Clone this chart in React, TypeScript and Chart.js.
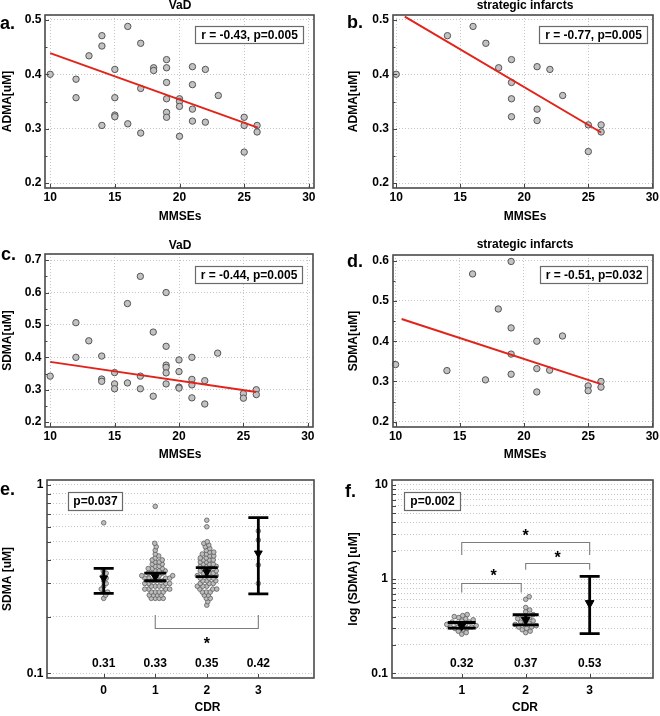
import React, { useEffect, useRef } from "react";
import { Chart, registerables } from "chart.js";

Chart.register(...registerables);

const FONT = '"Liberation Sans", Arial, Helvetica, sans-serif';
const TICK_FONT = { family: FONT, size: 12, weight: "bold" as const };
const GRID = "#c4c4c4";
const RED = "#e2231a";

// ---------------- data ----------------
const MMSE_TICKS = [10, 15, 20, 25, 30];

// a. VaD – ADMA vs MMSE
const VAD_ADMA_MMSE = [10, 12, 12, 13, 14, 14, 14, 15, 15, 15, 15, 16, 16, 17, 17, 17, 18, 18, 19, 19, 19, 19, 19, 19, 20, 20, 20, 20, 21, 21, 21, 21, 22, 22, 23, 25, 25, 25, 26, 26];
const VAD_ADMA = [0.40, 0.391, 0.357, 0.434, 0.471, 0.452, 0.306, 0.409, 0.357, 0.325, 0.322, 0.488, 0.309, 0.457, 0.374, 0.292, 0.412, 0.407, 0.427, 0.412, 0.385, 0.355, 0.330, 0.321, 0.355, 0.350, 0.341, 0.286, 0.414, 0.381, 0.336, 0.314, 0.409, 0.312, 0.361, 0.321, 0.306, 0.257, 0.306, 0.294];
const VAD_ADMA_FIT_X = [10, 26.05];
const VAD_ADMA_FIT_Y = [0.439, 0.302];
const ADMA_TICKS = [0.2, 0.3, 0.4, 0.5];

// b. strategic infarcts – ADMA vs MMSE
const SI_ADMA_MMSE = [10, 14, 16, 17, 18, 19, 19, 19, 19, 21, 21, 21, 22, 23, 25, 25, 26, 26];
const SI_ADMA = [0.40, 0.471, 0.488, 0.457, 0.412, 0.427, 0.385, 0.355, 0.322, 0.414, 0.336, 0.315, 0.409, 0.361, 0.307, 0.258, 0.307, 0.294];
const SI_ADMA_FIT_X = [10.67, 26];
const SI_ADMA_FIT_Y = [0.506, 0.293];

// c. VaD – SDMA vs MMSE
const VAD_SDMA_MMSE = [10, 12, 12, 13, 14, 14, 14, 15, 15, 15, 16, 16, 17, 17, 17, 18, 18, 19, 19, 19, 19, 19, 19, 20, 20, 20, 20, 21, 21, 21, 21, 22, 22, 23, 25, 25, 26, 26];
const VAD_SDMA = [0.342, 0.507, 0.40, 0.451, 0.404, 0.333, 0.326, 0.353, 0.318, 0.303, 0.566, 0.321, 0.650, 0.342, 0.303, 0.478, 0.280, 0.600, 0.434, 0.376, 0.369, 0.352, 0.318, 0.392, 0.356, 0.308, 0.305, 0.40, 0.332, 0.315, 0.275, 0.328, 0.256, 0.413, 0.288, 0.274, 0.300, 0.285];
const VAD_SDMA_FIT_X = [10, 26];
const VAD_SDMA_FIT_Y = [0.386, 0.293];
const SDMA_TICKS_C = [0.2, 0.3, 0.4, 0.5, 0.6, 0.7];

// d. strategic infarcts – SDMA vs MMSE
const SI_SDMA_MMSE = [10, 14, 16, 17, 18, 19, 19, 19, 19, 21, 21, 21, 22, 23, 25, 25, 26, 26];
const SI_SDMA = [0.342, 0.327, 0.567, 0.304, 0.480, 0.598, 0.433, 0.368, 0.318, 0.40, 0.332, 0.274, 0.328, 0.413, 0.289, 0.277, 0.300, 0.286];
const SI_SDMA_FIT_X = [10.47, 25.95];
const SI_SDMA_FIT_Y = [0.455, 0.294];
const SDMA_TICKS_D = [0.2, 0.3, 0.4, 0.5, 0.6];

// e. SDMA by CDR (all)
const E_CDR = [0, 1, 2, 3];
const E_CDR0 = [0.63, 0.35, 0.34, 0.33, 0.32, 0.31, 0.30, 0.29, 0.28, 0.27, 0.27, 0.26, 0.25];
const E_CDR1 = [0.77, 0.49, 0.47, 0.45, 0.43, 0.42, 0.41, 0.40, 0.40, 0.39, 0.39, 0.38, 0.38, 0.37, 0.37, 0.36, 0.36, 0.36, 0.35, 0.35, 0.35, 0.34, 0.34, 0.34, 0.33, 0.33, 0.33, 0.33, 0.32, 0.32, 0.32, 0.32, 0.31, 0.31, 0.31, 0.31, 0.30, 0.30, 0.30, 0.30, 0.29, 0.29, 0.29, 0.29, 0.28, 0.28, 0.28, 0.28, 0.27, 0.27, 0.27, 0.27, 0.26, 0.26, 0.26, 0.26, 0.25, 0.25, 0.25, 0.25];
const E_CDR2 = [0.65, 0.60, 0.50, 0.49, 0.48, 0.47, 0.46, 0.45, 0.44, 0.44, 0.43, 0.43, 0.42, 0.42, 0.41, 0.41, 0.40, 0.40, 0.40, 0.39, 0.39, 0.38, 0.38, 0.38, 0.37, 0.37, 0.37, 0.36, 0.36, 0.36, 0.35, 0.35, 0.35, 0.34, 0.34, 0.34, 0.33, 0.33, 0.33, 0.32, 0.32, 0.32, 0.31, 0.31, 0.31, 0.30, 0.30, 0.30, 0.29, 0.29, 0.29, 0.28, 0.28, 0.28, 0.27, 0.27, 0.27, 0.26, 0.26, 0.25, 0.25, 0.24, 0.23];
const E_CDR3 = [0.57, 0.51, 0.376, 0.30];
const E_MEAN = [0.32, 0.325, 0.345, 0.434];
const E_CI_LO = [0.266, 0.31, 0.326, 0.264];
const E_CI_HI = [0.361, 0.34, 0.364, 0.671];
const E_MEAN_LABELS = ["0.31", "0.33", "0.35", "0.42"];
const E_Y_TICKS = [0.1, 0.2, 0.3, 0.4, 0.5, 0.6, 0.7, 0.8, 0.9, 1];
const E_Y_LABELS = [0.1, 1];
const E_BRACKETS = [{ from: 1, to: 3, y: 0.173, end: 0.204, starX: 2, starY: 0.1508 }];

// f. SDMA by CDR (strategic infarcts)
const F_CDR = [1, 2, 3];
const F_CDR1 = [0.42, 0.41, 0.40, 0.39, 0.38, 0.37, 0.36, 0.35, 0.35, 0.34, 0.33, 0.33, 0.32, 0.32, 0.31, 0.31, 0.30, 0.30, 0.29, 0.28, 0.27, 0.26];
const F_CDR2 = [0.65, 0.61, 0.50, 0.47, 0.45, 0.42, 0.40, 0.39, 0.38, 0.37, 0.36, 0.35, 0.34, 0.33, 0.33, 0.32, 0.31, 0.31, 0.30, 0.29, 0.28, 0.27];
const F_CDR3 = [0.55];
const F_MEAN = [0.32, 0.37, 0.556];
const F_CI_LO = [0.301, 0.327, 0.263];
const F_CI_HI = [0.346, 0.418, 1.07];
const F_MEAN_LABELS = ["0.32", "0.37", "0.53"];
const F_Y_TICKS = [0.1, 0.2, 0.3, 0.4, 0.5, 0.6, 0.7, 0.8, 0.9, 1, 2, 3, 4, 5, 6, 7, 8, 9, 10];
const F_Y_LABELS = [0.1, 1, 10];
const F_BRACKETS = [
  { from: 1, to: 1.93, y: 0.92, end: 0.72, starX: 1.5, starY: 1.205 },
  { from: 2, to: 3, y: 1.5, end: 1.26, starX: 2.5, starY: 1.84 },
  { from: 1, to: 3, y: 2.5, end: 1.8, starX: 2, starY: 3.2 },
];

// ---------------- layout ----------------
type Layout = {
  rect: [number, number, number, number];
  area: [number, number, number, number];
  letter: [number, number];
  title?: [number, number];
  yTitleX: number;
  xTitle: [number, number];
  xTickY: number;
  yTickGap: number;
  annot: [number, number, number, number];
};

const LAYOUTS: Record<string, Layout> = {
  a: { rect: [0, 0, 330, 232], area: [45, 15, 314, 188], letter: [0, 29], title: [180, 8.5], yTitleX: 8, xTitle: [180, 217], xTickY: 198, yTickGap: 3.5, annot: [195, 26, 108, 17] },
  b: { rect: [330, 0, 330, 232], area: [393, 15, 653, 188], letter: [347, 28], title: [525, 8.5], yTitleX: 354, xTitle: [525, 217], xTickY: 198, yTickGap: 4, annot: [539, 26, 108, 17] },
  c: { rect: [0, 232, 330, 236], area: [45, 254, 313, 427], letter: [1, 260], title: [180, 249.3], yTitleX: 8, xTitle: [180, 455], xTickY: 437, yTickGap: 3.5, annot: [195, 266, 107, 17] },
  d: { rect: [330, 232, 330, 236], area: [393, 255, 653, 427], letter: [347, 267], title: [525, 248.3], yTitleX: 354, xTitle: [525, 455], xTickY: 437, yTickGap: 4, annot: [540, 266, 107, 17] },
  e: { rect: [0, 468, 330, 248], area: [47, 480, 314, 678], letter: [0, 495], yTitleX: 8, xTitle: [207.5, 708], xTickY: 691, yTickGap: 3.5, annot: [68, 492, 54, 18] },
  f: { rect: [330, 468, 330, 248], area: [392, 480, 653, 678], letter: [345, 497], yTitleX: 354, xTitle: [525, 708], xTickY: 691, yTickGap: 4, annot: [404, 492, 56, 18] },
};

// ---------------- helpers ----------------
function swarmPoints(values: number[], cat: number, pxPerX: number, pxPerDec: number, d: number) {
  const idx = values.map((_, i) => i).sort((a, b) => values[a] - values[b]);
  const placed: { dx: number; py: number }[] = [];
  const out: { x: number; y: number }[] = [];
  for (const i of idx) {
    const py = Math.log10(values[i]) * pxPerDec;
    let dx = 0;
    for (let k = 0; k < 400; k++) {
      const cand = (k % 2 ? 1 : -1) * Math.ceil(k / 2) * 0.5;
      if (placed.every((p) => (p.dx - cand) ** 2 + (p.py - py) ** 2 >= d * d)) {
        dx = cand;
        break;
      }
    }
    placed.push({ dx, py });
    out.push({ x: cat + dx / pxPerX, y: values[i] });
  }
  return out;
}

function xScale(L: Layout, type: string, min: number, max: number, ticks: number[], label: (v: number) => string, grid: boolean) {
  const xh = L.rect[1] + L.rect[3] - L.area[3];
  return {
    type, min, max,
    afterBuildTicks: (s: any) => { s.ticks = ticks.map((value) => ({ value })); },
    afterFit: (s: any) => { s.height = xh; s.paddingLeft = 0; s.paddingRight = 0; },
    ticks: { font: TICK_FONT, color: "#000", padding: L.xTickY - L.area[3] - 7.2, maxRotation: 0, minRotation: 0, autoSkip: false, callback: (v: any) => label(Number(v)) },
    grid: { display: grid, color: GRID, lineWidth: 1, drawTicks: false },
    border: { display: false, dash: [1, 2] },
  };
}

function yScale(L: Layout, type: string, min: number, max: number, ticks: number[], label: (v: number) => string) {
  const yw = L.area[0] - L.rect[0];
  return {
    type, min, max,
    afterBuildTicks: (s: any) => { s.ticks = ticks.map((value) => ({ value })); },
    afterFit: (s: any) => { s.width = yw; s.paddingTop = 0; s.paddingBottom = 0; },
    ticks: { font: TICK_FONT, color: "#000", padding: L.yTickGap, autoSkip: false, callback: (v: any) => label(Number(v)) },
    grid: { display: true, color: GRID, lineWidth: 1, drawTicks: false },
    border: { display: false, dash: [1, 2] },
  };
}

function layoutPadding(L: Layout) {
  return { left: 0, top: L.area[1] - L.rect[1], right: L.rect[0] + L.rect[2] - L.area[2], bottom: 0 };
}

type Extra = {
  minorY?: number[];
  after?: (chart: any) => void;
  afterSwarm?: (chart: any) => void;
};

function decor(key: string, L: Layout, letter: string, title: string | null, yTitle: string, xTitle: string, stat: string, extra: Extra) {
  return {
    id: "decor_" + key,
    afterDatasetDraw(chart: any, args: any) {
      if (extra.afterSwarm && args.index === 1) extra.afterSwarm(chart);
    },
    afterDraw(chart: any) {
      const ctx = chart.ctx as CanvasRenderingContext2D;
      const ox = L.rect[0];
      const oy = L.rect[1];
      const a = chart.chartArea;
      const xs = chart.scales.x;
      const ys = chart.scales.y;
      ctx.save();
      ctx.setLineDash([]);
      // inward ticks
      ctx.strokeStyle = "#444";
      ctx.lineWidth = 1;
      ctx.beginPath();
      xs.ticks.forEach((t: any) => {
        const p = Math.round(xs.getPixelForValue(t.value)) + 0.5;
        ctx.moveTo(p, a.bottom);
        ctx.lineTo(p, a.bottom - 4);
      });
      ys.ticks.forEach((t: any) => {
        const p = Math.round(ys.getPixelForValue(t.value)) + 0.5;
        ctx.moveTo(a.left, p);
        ctx.lineTo(a.left + 4, p);
      });
      (extra.minorY || []).forEach((v) => {
        const p = Math.round(ys.getPixelForValue(v)) + 0.5;
        ctx.moveTo(a.left, p);
        ctx.lineTo(a.left + 2.5, p);
      });
      ctx.stroke();
      // frame
      ctx.strokeStyle = "#4a4a4a";
      ctx.lineWidth = 1.6;
      ctx.strokeRect(a.left, a.top, a.right - a.left, a.bottom - a.top);

      if (extra.after) extra.after(chart);

      ctx.fillStyle = "#000";
      // panel letter
      ctx.font = `bold 18px ${FONT}`;
      ctx.textAlign = "left";
      ctx.textBaseline = "alphabetic";
      ctx.fillText(letter, L.letter[0] - ox, L.letter[1] - oy);
      // title
      ctx.font = `bold 12px ${FONT}`;
      ctx.textAlign = "center";
      if (title && L.title) ctx.fillText(title, L.title[0] - ox, L.title[1] - oy);
      // x title
      ctx.textBaseline = "middle";
      ctx.fillText(xTitle, L.xTitle[0] - ox, L.xTitle[1] - oy);
      // y title
      ctx.save();
      ctx.translate(L.yTitleX - ox, (a.top + a.bottom) / 2);
      ctx.rotate(-Math.PI / 2);
      ctx.fillText(yTitle, 0, 0);
      ctx.restore();
      // stat box
      const [bx, by, bw, bh] = L.annot;
      ctx.fillStyle = "#fff";
      ctx.fillRect(bx - ox, by - oy, bw, bh);
      ctx.strokeStyle = "#6a6a6a";
      ctx.lineWidth = 1.2;
      ctx.strokeRect(bx - ox + 0.5, by - oy + 0.5, bw, bh);
      ctx.fillStyle = "#000";
      ctx.fillText(stat, bx - ox + bw / 2 + 0.5, by - oy + bh / 2 + 1);
      ctx.restore();
    },
  };
}

// ---------------- chart factories ----------------
type ScatterSpec = {
  key: string; letter: string; title: string; yTitle: string; stat: string;
  x: number[]; y: number[]; fitX: number[]; fitY: number[];
  xRange: [number, number]; yRange: [number, number]; yTicks: number[];
};

function scatterConfig(s: ScatterSpec): any {
  const L = LAYOUTS[s.key];
  const minor: number[] = [];
  for (let i = 0; i < s.yTicks.length - 1; i++) minor.push((s.yTicks[i] + s.yTicks[i + 1]) / 2);
  return {
    type: "scatter",
    data: {
      datasets: [
        {
          type: "line",
          data: s.fitX.map((x, i) => ({ x, y: s.fitY[i] })),
          borderColor: RED, borderWidth: 2, pointRadius: 0, fill: false, tension: 0,
        },
        {
          type: "scatter",
          data: s.x.map((x, i) => ({ x, y: s.y[i] })),
          pointRadius: 3.2, pointBackgroundColor: "#c2c2c2", pointBorderColor: "#555", pointBorderWidth: 1,
          clip: false,
        },
      ],
    },
    options: {
      responsive: false, animation: false, events: [],
      layout: { padding: layoutPadding(L) },
      plugins: { legend: { display: false }, tooltip: { enabled: false }, title: { display: false } },
      scales: {
        x: xScale(L, "linear", s.xRange[0], s.xRange[1], MMSE_TICKS, (v) => String(v), true),
        y: yScale(L, "linear", s.yRange[0], s.yRange[1], s.yTicks, (v) => v.toFixed(1)),
      },
    },
    plugins: [decor(s.key, L, s.letter + ".", s.title, s.yTitle, "MMSEs", s.stat, { minorY: minor })],
  };
}

type Bracket = { from: number; to: number; y: number; end: number; starX: number; starY: number };

type GroupSpec = {
  key: string; letter: string; yTitle: string; stat: string;
  cats: number[]; groups: number[][]; mean: number[]; lo: number[]; hi: number[]; meanLabels: string[];
  xRange: [number, number]; yRange: [number, number]; yTicks: number[]; yLabels: number[];
  brackets: Bracket[]; pxPerX: number; pxPerDec: number; gap: number; capHalf: number[]; triR: number;
};

function groupConfig(g: GroupSpec): any {
  const L = LAYOUTS[g.key];
  const pts = g.groups.flatMap((vals, gi) => swarmPoints(vals, g.cats[gi], g.pxPerX, g.pxPerDec, g.gap));
  const drawBars = (chart: any) => {
    const ctx = chart.ctx as CanvasRenderingContext2D;
    const xs = chart.scales.x;
    const ys = chart.scales.y;
    ctx.save();
    ctx.strokeStyle = "#000";
    ctx.lineWidth = 2.8;
    g.cats.forEach((c, i) => {
      const px = xs.getPixelForValue(c);
      const pl = ys.getPixelForValue(g.lo[i]);
      const ph = ys.getPixelForValue(g.hi[i]);
      const h = g.capHalf[i];
      ctx.beginPath();
      ctx.moveTo(px, pl);
      ctx.lineTo(px, ph);
      ctx.moveTo(px - h, pl);
      ctx.lineTo(px + h, pl);
      ctx.moveTo(px - h, ph);
      ctx.lineTo(px + h, ph);
      ctx.stroke();
    });
    ctx.restore();
  };
  const after = (chart: any) => {
    const ctx = chart.ctx as CanvasRenderingContext2D;
    const xs = chart.scales.x;
    const ys = chart.scales.y;
    const a = chart.chartArea;
    ctx.save();
    ctx.fillStyle = "#000";
    ctx.font = `bold 12px ${FONT}`;
    ctx.textAlign = "center";
    ctx.textBaseline = "middle";
    g.cats.forEach((c, i) => ctx.fillText(g.meanLabels[i], xs.getPixelForValue(c), a.bottom - 14.5));
    ctx.strokeStyle = "#7d7d7d";
    ctx.lineWidth = 1.1;
    g.brackets.forEach((b) => {
      const x1 = xs.getPixelForValue(b.from);
      const x2 = xs.getPixelForValue(b.to);
      const y = Math.round(ys.getPixelForValue(b.y)) + 0.5;
      const ye = ys.getPixelForValue(b.end);
      ctx.beginPath();
      ctx.moveTo(x1, ye);
      ctx.lineTo(x1, y);
      ctx.lineTo(x2, y);
      ctx.lineTo(x2, ye);
      ctx.stroke();
      ctx.font = `bold 16px ${FONT}`;
      ctx.textBaseline = "alphabetic";
      ctx.fillText("*", xs.getPixelForValue(b.starX), ys.getPixelForValue(b.starY) + 0.57 * 16);
    });
    ctx.restore();
  };
  return {
    type: "scatter",
    data: {
      datasets: [
        {
          type: "scatter",
          data: g.cats.map((c, i) => ({ x: c, y: g.mean[i] })),
          pointStyle: "triangle", pointRotation: 180, pointRadius: g.triR,
          pointBackgroundColor: "#000", pointBorderColor: "#000", pointBorderWidth: 1, clip: false,
        },
        {
          type: "scatter",
          data: pts,
          pointRadius: 2.3, pointBackgroundColor: "#bdbdbd", pointBorderColor: "#5e5e5e", pointBorderWidth: 0.8,
          clip: false,
        },
      ],
    },
    options: {
      responsive: false, animation: false, events: [],
      layout: { padding: layoutPadding(L) },
      plugins: { legend: { display: false }, tooltip: { enabled: false }, title: { display: false } },
      scales: {
        x: xScale(L, "linear", g.xRange[0], g.xRange[1], g.cats, (v) => String(v), false),
        y: yScale(L, "logarithmic", g.yRange[0], g.yRange[1], g.yTicks, (v) =>
          g.yLabels.some((l) => Math.abs(l - v) < 1e-9) ? String(v) : ""),
      },
    },
    plugins: [decor(g.key, L, g.letter + ".", null, g.yTitle, "CDR", g.stat, { after, afterSwarm: drawBars })],
  };
}

// ---------------- panel specs ----------------
const PANEL_A: ScatterSpec = {
  key: "a", letter: "a", title: "VaD", yTitle: "ADMA[uM]", stat: "r = -0.43, p=0.005",
  x: VAD_ADMA_MMSE, y: VAD_ADMA, fitX: VAD_ADMA_FIT_X, fitY: VAD_ADMA_FIT_Y,
  xRange: [9.6, 30.4], yRange: [0.191, 0.509], yTicks: ADMA_TICKS,
};
const PANEL_B: ScatterSpec = {
  key: "b", letter: "b", title: "strategic infarcts", yTitle: "ADMA[uM]", stat: "r = -0.77, p=0.005",
  x: SI_ADMA_MMSE, y: SI_ADMA, fitX: SI_ADMA_FIT_X, fitY: SI_ADMA_FIT_Y,
  xRange: [9.75, 30.05], yRange: [0.191, 0.509], yTicks: ADMA_TICKS,
};
const PANEL_C: ScatterSpec = {
  key: "c", letter: "c", title: "VaD", yTitle: "SDMA[uM]", stat: "r = -0.44, p=0.005",
  x: VAD_SDMA_MMSE, y: VAD_SDMA, fitX: VAD_SDMA_FIT_X, fitY: VAD_SDMA_FIT_Y,
  xRange: [9.6, 30.4], yRange: [0.185, 0.719], yTicks: SDMA_TICKS_C,
};
const PANEL_D: ScatterSpec = {
  key: "d", letter: "d", title: "strategic infarcts", yTitle: "SDMA[uM]", stat: "r = -0.51, p=0.032",
  x: SI_SDMA_MMSE, y: SI_SDMA, fitX: SI_SDMA_FIT_X, fitY: SI_SDMA_FIT_Y,
  xRange: [9.8, 30.05], yRange: [0.187, 0.614], yTicks: SDMA_TICKS_D,
};
const PANEL_E: GroupSpec = {
  key: "e", letter: "e", yTitle: "SDMA [uM]", stat: "p=0.037",
  cats: E_CDR, groups: [E_CDR0, E_CDR1, E_CDR2, E_CDR3], mean: E_MEAN, lo: E_CI_LO, hi: E_CI_HI, meanLabels: E_MEAN_LABELS,
  xRange: [-1.1, 4.08], yRange: [0.0944, 1.063], yTicks: E_Y_TICKS, yLabels: E_Y_LABELS,
  brackets: E_BRACKETS, pxPerX: 51.7, pxPerDec: 188.3, gap: 3.6, capHalf: [10, 11, 11, 10], triR: 4.5,
};
const PANEL_F: GroupSpec = {
  key: "f", letter: "f", yTitle: "log (SDMA) [uM]", stat: "p=0.002",
  cats: F_CDR, groups: [F_CDR1, F_CDR2, F_CDR3], mean: F_MEAN, lo: F_CI_LO, hi: F_CI_HI, meanLabels: F_MEAN_LABELS,
  xRange: [-0.09, 3.99], yRange: [0.089, 11.3], yTicks: F_Y_TICKS, yLabels: F_Y_LABELS,
  brackets: F_BRACKETS, pxPerX: 64.15, pxPerDec: 94.2, gap: 4.3, capHalf: [14, 13, 10], triR: 5,
};

// ---------------- components ----------------
function PanelCanvas({ make, rect }: { make: () => any; rect: [number, number, number, number] }) {
  const ref = useRef<HTMLCanvasElement | null>(null);
  useEffect(() => {
    if (!ref.current) return;
    const chart = new Chart(ref.current, make());
    return () => chart.destroy();
  }, []);
  return (
    <canvas
      ref={ref}
      width={rect[2]}
      height={rect[3]}
      style={{ position: "absolute", left: rect[0], top: rect[1], width: rect[2], height: rect[3] }}
    />
  );
}

export default function App() {
  return (
    <div style={{ position: "absolute", left: 0, top: 0, width: 660, height: 716, background: "#fff", overflow: "hidden" }}>
      <PanelCanvas rect={LAYOUTS.a.rect} make={() => scatterConfig(PANEL_A)} />
      <PanelCanvas rect={LAYOUTS.b.rect} make={() => scatterConfig(PANEL_B)} />
      <PanelCanvas rect={LAYOUTS.c.rect} make={() => scatterConfig(PANEL_C)} />
      <PanelCanvas rect={LAYOUTS.d.rect} make={() => scatterConfig(PANEL_D)} />
      <PanelCanvas rect={LAYOUTS.e.rect} make={() => groupConfig(PANEL_E)} />
      <PanelCanvas rect={LAYOUTS.f.rect} make={() => groupConfig(PANEL_F)} />
    </div>
  );
}
